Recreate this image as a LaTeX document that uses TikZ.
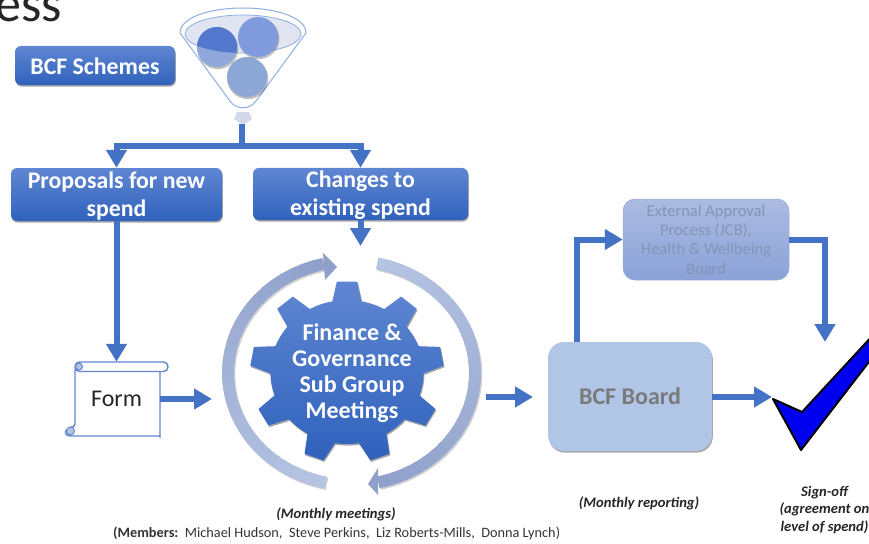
\documentclass[tikz,border=0pt]{standalone}
\usepackage{fontspec}
\setmainfont{Carlito}
\usetikzlibrary{arrows.meta,shadows,calc}
\definecolor{flow}{HTML}{4472C4}
\definecolor{boxtop}{HTML}{5F86D2}
\definecolor{boxbot}{HTML}{3062BC}
\definecolor{ringa}{HTML}{B6C4E3}
\definecolor{ringb}{HTML}{8FA1CB}
\definecolor{funnelline}{HTML}{8DAEE2}
\definecolor{balla}{HTML}{5478CD}
\definecolor{ballb}{HTML}{8FA7DB}
\definecolor{ballc}{HTML}{7F9BDD}
\definecolor{balld}{HTML}{8CA6D6}
\definecolor{rimfill}{HTML}{E1E5F2}
\definecolor{spoutfill}{HTML}{D3D8EB}
\definecolor{boardfill}{HTML}{B1C5E6}
\definecolor{exttop}{HTML}{ACBBE0}
\definecolor{extbot}{HTML}{8BA2D8}
\definecolor{exttext}{HTML}{8494B8}
\tikzset{
  softshadow/.style={drop shadow={shadow xshift=0.8pt,shadow yshift=-1.6pt,opacity=.35,fill=black}},
  bluebox/.style={rounded corners=6pt,top color=boxtop,bottom color=boxbot,text=white,inner sep=0pt,align=center,softshadow,
    font=\fontsize{23.8}{28}\selectfont\bfseries},
  flowline/.style={draw=flow,line width=6pt},
  flowarrow/.style={flowline,-{Triangle[width=20pt,length=18pt]}},
  caption/.style={inner sep=0pt,align=center,text=black!85,font=\fontsize{14.6}{17.5}\selectfont\bfseries\itshape}
}
% centre x, centre y, rx, ry, start angle, end angle, from colour, to colour
\newcommand{\ringband}[8]{%
  \begin{scope}[shift={(#1,#2)},x=#3pt,y=#4pt]
    \draw[line width=12pt,black,opacity=.18,shift={(0.01,-0.014)}] (#5:1) arc[start angle=#5,end angle=#6,radius=1];
    \foreach \s in {0,...,29}{
      \pgfmathsetmacro\ta{#5+(#6-#5)*\s/30}
      \pgfmathsetmacro\tb{#5+(#6-#5)*min(\s+1.2,30)/30}
      \pgfmathtruncatemacro\pc{100*\s/29}
      \colorlet{segc}{#8!\pc!#7}
      \draw[line width=12pt,segc] (\ta:1) arc[start angle=\ta,end angle=\tb,radius=1];
    }
  \end{scope}}
\begin{document}
\begin{tikzpicture}[x=1pt,y=-1pt]
\useasboundingbox (0,0) rectangle (869,543);
\clip (0,0) rectangle (869,543);

% title fragment
\node[anchor=base west,inner sep=0pt,text=black!85,font=\fontsize{52}{52}\selectfont] (title) at (-5,22) {ess};

% funnel
\path[draw=funnelline,fill=white,line width=1pt]
  (180,33) .. controls (180,18) and (208,8) .. (243,8) .. controls (278,8) and (306,18) .. (306,33)
  -- (256,101) .. controls (250,110) and (236,110) .. (230,101) -- cycle;
\path[draw=funnelline,fill=rimfill,line width=.8pt] (243,34) ellipse [x radius=58,y radius=19];
\fill[black,opacity=.25] (247.8,78.6) circle [radius=20.5];
\fill[balld] (247,77) circle [radius=20];
\fill[black,opacity=.25] (217.8,48.6) circle [radius=20.5];
\fill[ballb] (217,47) circle [radius=20];
\begin{scope}
  \clip (243,34) ellipse [x radius=58,y radius=19];
  \fill[balla] (217,47) circle [radius=20];
\end{scope}
\fill[black,opacity=.25] (258.8,38.6) circle [radius=20.5];
\fill[ballc] (258,37) circle [radius=20];
\path[fill=spoutfill] (237,112) -- (249,112) -- (252,119) -- (243,125) -- (234,119) -- cycle;
\coordinate (spout) at (242,124);

% boxes
\node[bluebox,minimum width=160pt,minimum height=39pt] (schemes) at (95,65.5) {\rule{0pt}{18pt}BCF Schemes};
\node[bluebox,minimum width=211pt,minimum height=53pt] (proposals) at (116.5,194.5) {\rule{0pt}{20pt}Proposals for new\\spend};
\node[bluebox,minimum width=215pt,minimum height=52pt] (changes) at (360.5,194) {\rule{0pt}{20pt}Changes to\\existing spend};
\node[rounded corners=12pt,top color=exttop,bottom color=extbot,draw=extbot!70!exttop,line width=.5pt,minimum width=166pt,minimum height=81pt,inner sep=0pt,align=center,text=exttext,
  font=\fontsize{16.5}{19.4}\selectfont] (ext) at (706,239.5) {External Approval\\Process (JCB),\\Health \& Wellbeing\\Board};
\node[rounded corners=16pt,fill=boardfill,minimum width=164pt,minimum height=109pt,inner sep=0pt,text=black!52,softshadow,
  font=\fontsize{24}{28}\selectfont\bfseries] (board) at (630,396.5) {BCF Board};

% form scroll
\path[draw=flow!85!white,fill=white,line width=1.4pt,rounded corners=3pt]
  (75,367) -- (160,367) -- (160,434) .. controls (160,436) and (158,436) .. (156,436) -- (67,436) .. controls (64,431) and (70,427) .. (75,427) -- cycle;
\path[draw=flow!85!white,fill=white,line width=1.4pt,rounded corners=4.5pt] (75,362) rectangle (168,371.5);
\path[draw=flow!85!white,fill=ringa,line width=1pt] (79,366.5) circle [radius=3.5];
\path[draw=flow!85!white,fill=ringa,line width=1pt] (70.5,431) circle [radius=4];
\node[minimum width=85pt,minimum height=74pt,inner sep=0pt,text=black!85,font=\fontsize{24}{28}\selectfont] (form) at (117.5,399) {\raisebox{-7pt}{\kern-2pt Form}};

% gear
\gdef\gearpath{}
\foreach \k in {0,...,8}{
  \pgfmathsetmacro\aa{90-40*\k+11}
  \pgfmathsetmacro\ab{90-40*\k+6}
  \pgfmathsetmacro\ac{90-40*\k-6}
  \pgfmathsetmacro\ad{90-40*\k-11}
  \pgfmathsetmacro\ae{90-40*\k-29}
  \ifnum\k=0
    \xdef\gearpath{(\aa:72) -- (\ab:91) -- (\ac:91) -- (\ad:72) arc[start angle=\ad,end angle=\ae,radius=72]}
  \else
    \xdef\gearpath{\gearpath -- (\aa:72) -- (\ab:91) -- (\ac:91) -- (\ad:72) arc[start angle=\ad,end angle=\ae,radius=72]}
  \fi
}
\begin{scope}[shift={(347,372)},x=1.065pt,y=1pt]
  \path[top color=boxtop,bottom color=boxbot,softshadow] \gearpath -- cycle;
\end{scope}
\node[inner sep=0pt,align=center,text=white,font=\fontsize{24}{26}\selectfont\bfseries] (gear) at (352,373) {Finance \&\\Governance\\Sub Group\\Meetings};

% rings
\ringband{351.5}{373}{123.5}{112}{258}{103}{ringa}{ringb}
\fill[ringb] (323,253) -- (337,267) -- (325,280) -- cycle;
\ringband{351.5}{373}{123.5}{112}{78}{-77.5}{ringa}{ringb}
\fill[ringb] (378,468) -- (368,484) -- (378,495) -- cycle;

% connectors
\coordinate (fork) at (242,146);
\coordinate (forkl) at (116.5,146);
\coordinate (forkr) at (360.5,146);
\coordinate (ringin) at (212,399);
\coordinate (ringtop) at (360.5,246);
\coordinate (ringout) at (486,397);
\coordinate (ringoutend) at (533,397);
\coordinate (tick) at (772,397);
\coordinate (tickup) at (825,342);
\coordinate (bend1) at (577,239.5);
\coordinate (bend2) at (825,239.5);
\draw[flowline] (spout) -- (fork);
\draw[flowarrow] (fork) -| (forkl |- proposals.north);
\draw[flowarrow] (fork) -| (forkr |- changes.north);
\draw[flowarrow] (proposals.south) -- (proposals.south |- form.north);
\draw[flowarrow] (changes.south) -- (ringtop);
\draw[flowarrow] (form.east) -- (ringin);
\draw[flowarrow] (ringout) -- (ringoutend);
\draw[flowarrow] (bend1 |- board.north) -- (bend1) -- (ext.west);
\draw[flowarrow] (ext.east) -- (bend2) -- (tickup);
\draw[flowarrow] (board.east |- tick) -- (tick);

% tick
\path[fill=blue!94!black,draw=black,line width=2pt,line join=round] (773,399) -- (802,412) -- (875,333) -- (875,354) -- (801,450) -- cycle;

% captions
\node[caption] (cap1) at (336,514) {(Monthly meetings)};
\node[inner sep=0pt,text=black!80,font=\fontsize{14.3}{16}\selectfont,anchor=base west] (cap2) at (113,537) {\textbf{(Members:}\ \ Michael Hudson,\ \ Steve Perkins,\ \ Liz Roberts-Mills,\ \ Donna Lynch)};
\node[caption] (cap3) at (639,503) {(Monthly reporting)};
\node[caption] (cap4) at (824.5,510) {Sign-off\\(agreement on\\level of spend)};
\end{tikzpicture}
\end{document}
